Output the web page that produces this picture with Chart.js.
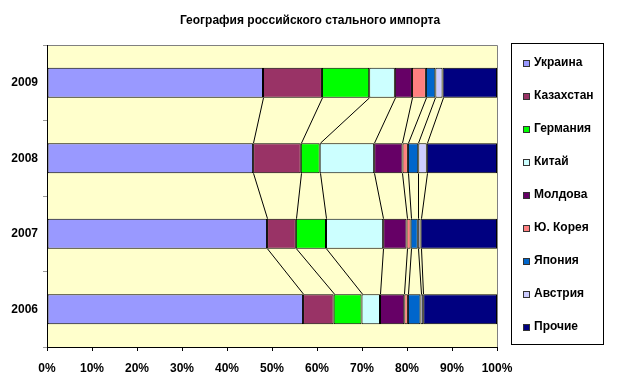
<!DOCTYPE html>
<html><head><meta charset="utf-8">
<script src="https://cdn.jsdelivr.net/npm/chart.js@4.4.0/dist/chart.umd.min.js"></script>
<style>html,body{margin:0;padding:0;background:#fff}#wrap{width:623px;height:387px}</style>
</head><body><div id="wrap"><canvas id="c" width="623" height="387"></canvas></div>
<script>
const chartTitle = 'География российского стального импорта';
const years = ['2009', '2008', '2007', '2006'];
const seriesNames = ['Украина', 'Казахстан', 'Германия', 'Китай', 'Молдова', 'Ю. Корея', 'Япония', 'Австрия', 'Прочие'];
const ukraine    = [48.0, 45.8, 48.9, 56.9];
const kazakhstan = [13.1, 10.6, 6.4, 6.8];
const germany    = [10.5, 4.2, 6.7, 6.2];
const china      = [5.7, 12.1, 12.7, 4.1];
const moldova    = [3.8, 6.3, 5.2, 5.4];
const korea      = [3.1, 1.2, 0.9, 0.8];
const japan      = [2.1, 2.3, 1.6, 2.8];
const austria    = [1.6, 1.9, 0.6, 0.6];
const others     = [12.1, 15.6, 17.0, 16.4];
const xTicks = [0, 10, 20, 30, 40, 50, 60, 70, 80, 90, 100];

const seriesValues = [ukraine, kazakhstan, germany, china, moldova, korea, japan, austria, others];
const colors = ['#9999FF', '#993366', '#00FF00', '#CCFFFF', '#660066', '#FF8080', '#0066CC', '#CCCCFF', '#000080'];

Chart.defaults.font.family = '"Liberation Sans", Arial, sans-serif';
Chart.defaults.font.size = 12;
Chart.defaults.font.weight = 'bold';
Chart.defaults.color = '#000';

const plotBg = {
  id: 'plotBg',
  beforeDraw(chart) {
    const {ctx, chartArea: a} = chart;
    ctx.save();
    ctx.fillStyle = '#FFFFCC';
    ctx.fillRect(a.left, a.top, a.right - a.left, a.bottom - a.top);
    ctx.strokeStyle = '#808080';
    ctx.lineWidth = 1;
    ctx.beginPath();
    ctx.moveTo(a.left, a.top + 0.5);
    ctx.lineTo(a.right + 0.5, a.top + 0.5);
    ctx.lineTo(a.right + 0.5, a.bottom);
    ctx.stroke();
    // title, centred on the whole picture
    ctx.fillStyle = '#000';
    ctx.font = 'bold 12px "Liberation Sans", Arial, sans-serif';
    ctx.textAlign = 'center';
    ctx.textBaseline = 'middle';
    ctx.fillText(chartTitle, 310, 20.5);
    ctx.restore();
  }
};

const seriesLines = {
  id: 'seriesLines',
  afterDatasetsDraw(chart) {
    const ctx = chart.ctx;
    ctx.save();
    ctx.strokeStyle = '#000';
    ctx.lineWidth = 1;
    const n = chart.data.datasets.length;
    for (let d = 0; d < n - 1; d++) {
      const meta = chart.getDatasetMeta(d);
      for (let i = 0; i < meta.data.length - 1; i++) {
        const a = meta.data[i], b = meta.data[i + 1];
        ctx.beginPath();
        ctx.moveTo(Math.round(a.x) + 0.5, a.y + a.height / 2);
        ctx.lineTo(Math.round(b.x) + 0.5, b.y - b.height / 2);
        ctx.stroke();
      }
    }
    ctx.restore();
  }
};

const boxLegend = {
  id: 'boxLegend',
  afterDraw(chart) {
    const ctx = chart.ctx;
    ctx.save();
    ctx.strokeStyle = '#000';
    ctx.lineWidth = 1;
    ctx.strokeRect(511.5, 43.5, 92, 301);
    ctx.font = 'bold 12px "Liberation Sans", Arial, sans-serif';
    ctx.textBaseline = 'middle';
    ctx.fillStyle = '#000';
    chart.data.datasets.forEach((ds, i) => {
      const cy = 62.5 + i * 33;
      ctx.fillStyle = ds.backgroundColor;
      ctx.fillRect(523, Math.round(cy) - 3, 7, 7);
      ctx.strokeStyle = '#333';
      ctx.strokeRect(523.5, Math.round(cy) - 2.5, 6, 6);
      ctx.fillStyle = '#000';
      ctx.fillText(ds.label, 534, cy + 0.5);
    });
    ctx.restore();
  }
};

new Chart(document.getElementById('c'), {
  type: 'bar',
  data: {
    labels: years,
    datasets: seriesNames.map((name, i) => ({
      label: name,
      data: seriesValues[i],
      backgroundColor: colors[i],
      borderColor: '#000',
      borderWidth: 1,
      borderSkipped: false,
      barPercentage: 0.4,
      categoryPercentage: 1.0
    }))
  },
  options: {
    indexAxis: 'y',
    responsive: false,
    animation: false,
    layout: {padding: {left: 0, right: 126, top: 45, bottom: 0}},
    plugins: {
      legend: {display: false},
      tooltip: {enabled: false},
      title: {display: false}
    },
    scales: {
      x: {
        stacked: true,
        min: 0, max: 100,
        afterBuildTicks(scale) { scale.ticks = xTicks.map(v => ({value: v})); },
        afterFit(scale) { scale.height = 40; },
        ticks: {callback: v => v + '%', padding: 10, maxRotation: 0, autoSkip: false, font: {size: 12, weight: 'bold'}},
        grid: {drawOnChartArea: false, drawTicks: true, tickLength: 4, color: '#000'},
        border: {display: true, color: '#000', width: 1}
      },
      y: {
        stacked: true,
        afterFit(scale) { scale.width = 47; },
        ticks: {padding: 5, font: {size: 12, weight: 'bold'}},
        grid: {drawOnChartArea: false, drawTicks: true, tickLength: 4, color: '#999', offset: true},
        border: {display: true, color: '#000', width: 1}
      }
    }
  },
  plugins: [plotBg, seriesLines, boxLegend]
});
</script>
</body></html>
